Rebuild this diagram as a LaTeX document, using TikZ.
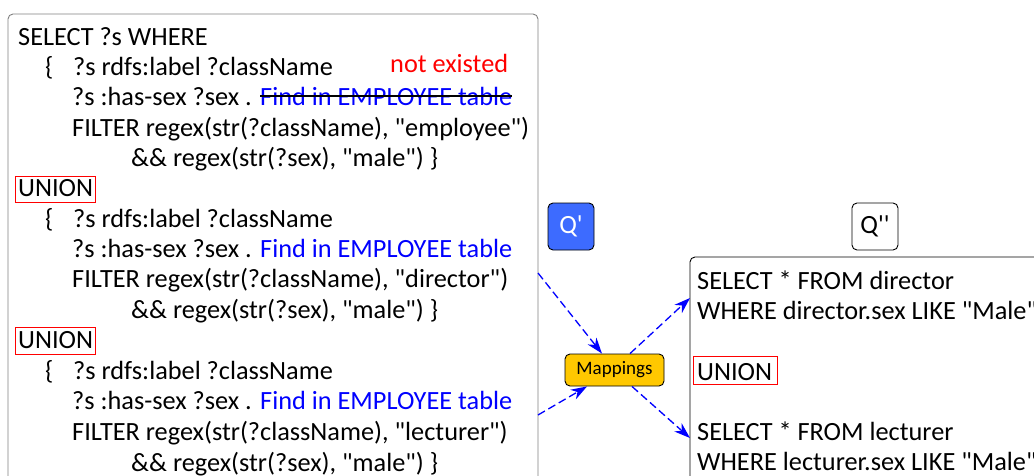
\documentclass[tikz,border=0pt]{standalone}
\usepackage{fontspec}
\setmainfont{Carlito}[Ligatures=TeXOff]
\usetikzlibrary{arrows.meta}
\definecolor{qblue}{HTML}{3D6BFF}
\definecolor{mapgold}{HTML}{FFC800}
\begin{document}
\begin{tikzpicture}[x=1pt,y=-1pt,
  txt/.style={anchor=base west,inner sep=0pt,font=\fontsize{26.3}{30}\selectfont},
  bluetxt/.style={txt,text=blue},
  qbox/.style={draw=black,line width=0.9pt,rounded corners=5pt,minimum width=46pt,minimum height=47pt,font=\fontsize{26.3}{30}\selectfont},
  conn/.style={draw=blue,line width=1.3pt,dash pattern=on 8pt off 4pt,-{Stealth[length=16pt,width=11pt,inset=5pt]}}
]
\useasboundingbox (0,0) rectangle (1034,475);
% left box
\draw[draw=gray,line width=0.9pt,rounded corners=5pt] (8,490) -- (8,14) -- (538,14) -- (538,490);
\node[txt] (l1) at (18,45) {SELECT ?s WHERE};
\node[txt] (b1) at (45,75) {\{};
\node[txt] (l2) at (73,75) {?s rdfs:label ?className};
\node[txt,text=red] (ne) at (390,72) {not existed};
\node[txt] (l3) at (72,105) {?s :has-sex ?sex .};
\node[bluetxt] (f1) at (260,105) {Find in EMPLOYEE table};
\draw[black,line width=1.5pt] (f1.west |- 0,96) -- (f1.east |- 0,96);
\node[txt] (l4) at (72,136) {FILTER regex(str(?className), "employee")};
\node[txt] (l5) at (131,166) {\&\& regex(str(?sex), "male") \}};
\node[txt] (u1) at (18,196) {UNION};
\node[txt] (b2) at (45,227) {\{};
\node[txt] (l6) at (73,227) {?s rdfs:label ?className};
\node[txt] (l7) at (72,257) {?s :has-sex ?sex .};
\node[bluetxt] (f2) at (260,257) {Find in EMPLOYEE table};
\node[txt] (l8) at (72,287) {FILTER regex(str(?className), "director")};
\node[txt] (l9) at (131,318) {\&\& regex(str(?sex), "male") \}};
\node[txt] (u2) at (18,348) {UNION};
\node[txt] (b3) at (45,379) {\{};
\node[txt] (l10) at (73,379) {?s rdfs:label ?className};
\node[txt] (l11) at (72,409) {?s :has-sex ?sex .};
\node[bluetxt] (f3) at (260,409) {Find in EMPLOYEE table};
\node[txt] (l12) at (72,440) {FILTER regex(str(?className), "lecturer")};
\node[txt] (l13) at (131,471) {\&\& regex(str(?sex), "male") \}};
% union boxes
\draw[red,line width=0.8pt] (15,176) rectangle (95,202);
\draw[red,line width=0.8pt] (15,327) rectangle (95,354);
% Q boxes
\node[qbox,fill=qblue,text=white] (qp) at (571,226.5) {Q'};
\node[qbox,fill=white] (qpp) at (875,226.5) {Q''};
% mappings
\node[draw=black,line width=0.9pt,fill=mapgold,rounded corners=5pt,minimum width=99pt,minimum height=32pt,inner sep=0pt,font=\fontsize{19}{22}\selectfont] (map) at (614.5,370) {Mappings};
% right box
\draw[draw=black,line width=0.9pt,rounded corners=5pt] (690,490) -- (690,257) -- (1050,257);
\node[txt] (r1) at (697,289) {SELECT * FROM director};
\node[txt] (r2) at (697,319) {WHERE director.sex LIKE "Male"};
\node[txt] (r3) at (697,380) {UNION};
\draw[red,line width=0.8pt] (693,356) rectangle (777,384);
\node[txt] (r4) at (697,440) {SELECT * FROM lecturer};
\node[txt] (r5) at (697,470) {WHERE lecturer.sex LIKE "Male"};
% connectors
\coordinate (s1) at (538,273);
\coordinate (s2) at (538,415);
\coordinate (e3) at (690,298);
\coordinate (e4) at (690,438);
\draw[conn] (s1) -- (map.north -| 602,0);
\draw[conn] (s2) -- (map.south -| 587,0);
\draw[conn] (map.north -| 630,0) -- (e3);
\draw[conn] (map.south -| 632,0) -- (e4);
\end{tikzpicture}
\end{document}
